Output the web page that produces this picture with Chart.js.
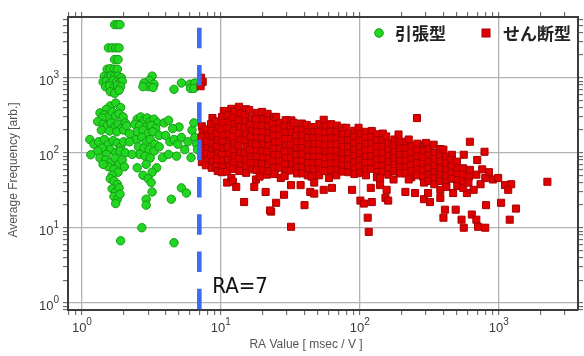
<!DOCTYPE html>
<html>
<head>
<meta charset="utf-8">
<script src="https://cdn.jsdelivr.net/npm/chart.js@4.4.1/dist/chart.umd.min.js"></script>
<style>
html, body { margin: 0; padding: 0; background: #fff; }
</style>
</head>
<body>
<canvas id="Scatter" width="584" height="356"></canvas>
<script>
// series names (legend)
const seriesNames = ['引張型', 'せん断型'];
const xTitle = 'RA Value [ msec / V ]';
const yTitle = 'Average Frequency [arb.]';
const raLabel = 'RA=7';
const raValue = 7;
const xDecades = [0, 1, 2, 3];
const yDecades = [0, 1, 2, 3];

// 引張型 (tensile) points [RA, frequency]
const tensilePts = [
  [1.72,5100],[1.8,5100],[1.88,5100],
  [1.55,2500],[1.65,2500],[1.75,2500],[1.85,2500],
  [1.72,1750],[1.82,1750],
  [1.52,1300],[1.6,1320],[1.7,1300],[1.8,1300],
  [1.45,1050],[1.55,1030],[1.62,1060],[1.72,1040],[1.82,1050],[1.92,1000],
  [1.42,880],[1.5,900],[1.6,850],[1.68,920],[1.78,880],[1.88,860],[1.95,900],
  [1.48,760],[1.58,780],[1.7,740],[1.8,790],[1.9,760],
  [1.6,650],[1.72,620],[1.85,680],
  [3.2,1050],[3.05,920],[2.8,850],[3.3,820],[3.0,760],[3.25,740],[2.75,760],
  [4.6,700],[5.2,850],[6.0,820],[6.05,720],[6.5,850],[6.4,720],
  [1.6,420],[1.75,460],[1.9,400],[1.5,380],
  [1.35,340],[1.45,320],[1.55,300],[1.65,350],[1.75,310],[1.85,330],[1.98,300],[1.4,290],
  [1.3,260],[1.42,240],[1.52,230],[1.62,250],[1.72,220],[1.82,240],[1.92,210],[2.05,250],
  [1.38,200],[1.58,195],[1.78,190],[2.0,200],[2.1,230],
  [1.14,150],[1.22,130],[1.32,140],[1.45,150],[1.55,130],[1.68,145],[1.8,135],[1.9,120],
  [2.0,140],[1.4,115],[1.6,110],[1.75,100],[1.88,105],[1.3,105],[1.16,94],[1.5,95],[2.05,100],
  [1.35,85],[1.48,80],[1.62,75],[1.74,85],[1.85,70],[1.95,80],[1.55,65],[1.7,60],
  [1.82,55],[1.42,70],[2.02,65],[1.65,50],
  [1.6,45],[1.7,42],[1.8,38],[1.65,33],[1.75,30],[1.85,34],[1.7,26],[1.8,24],[1.75,21],[1.88,28],
  [2.5,280],[2.65,300],[2.8,270],[2.95,290],[3.1,260],[3.3,280],[3.5,250],[2.4,240],
  [2.6,230],[2.9,220],[3.15,230],[3.4,210],[2.5,190],[2.75,200],[3.0,180],[3.25,190],
  [3.6,170],[2.45,150],[2.7,160],[2.9,140],[3.1,150],[3.35,130],[2.55,120],[2.8,115],
  [3.05,110],[3.3,105],[2.6,95],[2.85,90],[3.1,85],[3.45,63],[2.5,63],[2.9,70],[3.2,55],
  [2.75,50],[3.0,45],[3.15,40],[3.2,30],[2.9,24],[2.9,20],[2.7,10],[3.8,86],[3.6,120],
  [2.2,140],[2.3,95],[2.2,180],
  [4.0,170],[4.3,140],[4.6,150],[4.9,130],[5.2,160],[5.5,110],[5.8,140],[6.1,86],[6.2,200],
  [6.5,160],[6.7,130],[4.4,24],[5.2,34],[5.65,29],[4.2,95],[4.8,90],[5.0,220],[4.5,210],
  [6.8,110],[6.4,250],[3.9,250],[4.2,270],
  [1.9,6.7],[4.6,6.3]
];

// せん断型 (shear) points [RA, frequency]
const shearPts = [
  [7.2,1000],[7.4,880],[7.15,770],
  [7.3,225],[7.4,188],[7.25,160],[7.35,131],[7.3,107],[7.45,90],[7.3,75],
  [7.9,205],[8.1,170],[7.85,141],[8.0,116],[7.9,96],[8.05,81],[7.8,68],
  [8.7,290],[8.5,240],[8.6,196],[8.75,162],[8.55,135],[8.65,110],[8.5,92],[8.7,76],[8.6,63],
  [9.2,262],[9.6,215],[9.35,178],[9.5,148],[9.3,120],[9.55,99],[9.4,82],[9.25,66],[9.5,57],
  [10.5,360],[10.2,300],[10.4,250],[10.1,205],[10.35,168],[10.25,140],[10.45,114],[10.2,94],[10.4,78],[10.3,64],[10.15,55],
  [11.9,385],[11.2,315],[11.5,260],[11.1,212],[11.4,176],[11.6,143],[11.2,118],[11.45,97],[11.25,80],[11.6,66],[11.1,56],[11.1,40],[11.9,46],[12.2,41],
  [12.5,355],[12.3,290],[12.6,240],[12.4,198],[12.2,162],[12.5,133],[12.35,110],[12.6,90],[12.4,74],[12.25,61],[12.9,35],
  [13.5,410],[13.9,335],[13.4,270],[13.8,222],[13.55,182],[13.9,150],[13.4,123],[13.75,101],[13.5,83],[13.9,68],[13.6,57],
  [15.2,380],[14.9,318],[15.1,260],[14.8,214],[15.15,176],[15.0,145],[15.3,119],[14.85,98],[15.1,81],[15.25,66],[15.2,54],[14.7,22],
  [16,370],[16.7,288],[16.3,236],[16.8,196],[16.4,161],[16.7,133],[16.2,109],[16.6,89],[16.4,73],[16.8,60],[17.4,35],[17.9,44],
  [18.2,340],[17.9,280],[18.3,230],[18.0,190],[18.25,158],[17.95,130],[18.2,106],[18.0,88],[18.3,72],[18.1,59],[19,48],
  [19.8,350],[20.2,276],[19.6,228],[20.1,188],[19.8,155],[20.3,128],[19.9,105],[20.2,86],[19.7,71],[20.0,59],[21.5,51],
  [21.7,330],[22.1,272],[21.9,224],[22.2,184],[21.8,151],[22.0,124],[21.6,102],[22.2,84],[21.9,69],[22.1,57],[21,30],[23,16.4],[22.6,17],
  [24.2,300],[23.7,248],[24.2,204],[23.9,168],[24.4,137],[24,113],[24.3,93],[23.7,77],[24.1,63],[24.4,52],[25,21.5],
  [25,300],[26.6,250],[26.2,205],[26.5,169],[26.3,139],[26.7,114],[26.2,94],[26.5,77],[26.4,63],[27,46],[28.5,27.5],
  [29.3,272],[28.7,225],[29.2,186],[29,153],[29.4,125],[28.8,103],[29.3,85],[29.0,70],[29.4,58],[28.8,49],
  [32.2,270],[31.8,224],[32.3,185],[32,152],[31.7,126],[32.2,103],[32,85],[32.4,70],[31.9,58],[32,37],[32,10.3],
  [33.5,250],[35.3,200],[34.7,168],[35.4,138],[35,114],[34.7,94],[35.3,77],[34.9,64],[35.4,53],
  [38.3,245],[38.8,205],[38.4,170],[38.7,140],[38.2,115],[38.6,95],[38.9,78],[38.4,64],[38.7,53],[37.5,37],
  [41.5,235],[42.9,190],[42.2,157],[42.8,130],[42.1,107],[43,88],[42.4,73],[42.7,60],[42.2,50],[44,30],[40,20],
  [45,220],[46.9,190],[46.4,158],[47,130],[46.5,107],[46.8,88],[46.3,72],[47,60],[45,48],[47,40],[47,28.5],
  [51.2,240],[50.7,190],[51.4,157],[50.8,130],[51.3,107],[51,88],[50.6,73],[51.4,60],[51,50],
  [55,275],[56.8,225],[56.3,185],[56.7,152],[56.2,125],[56.9,103],[56.4,85],[56.7,70],[56.2,57],[55,32],
  [62.3,240],[61.7,190],[62.3,156],[61.8,128],[62.5,105],[61.6,87],[62.1,72],[62.5,59],[60,46],[63,34],
  [68.3,230],[67.7,190],[68.2,156],[67.9,129],[68.4,106],[67.8,87],[68.1,72],[68.3,59],[67.7,50],
  [74.5,215],[75.4,177],[74.7,145],[75.5,119],[74.6,98],[75.3,81],[74.8,67],[75.4,56],
  [80,215],[82.8,178],[82.3,146],[82.9,120],[82.2,99],[82.7,82],[82.4,67],[82.8,55],
  [91.4,196],[90.6,162],[91.3,133],[90.7,110],[91.5,91],[90.5,75],[91.1,62],[91.4,52],[88,32],
  [98,215],[100.5,176],[99.6,145],[100.4,119],[99.8,98],[100.6,80],[99.7,66],[100.3,54],[101,23],
  [110.5,190],[109.5,157],[110.4,130],[109.6,107],[110.6,88],[109.7,73],[110.2,60],[110.7,50],[107,21],[114,13.6],[116,8.8],
  [122,195],[120.6,162],[121.4,133],[120.7,110],[121.3,90],[120.5,74],[121.2,61],[120,34],[122,22],
  [133.5,176],[132.5,145],[133.4,119],[132.6,98],[133.6,81],[132.5,67],[133.2,55],[132.8,47],
  [146.5,180],[145.6,148],[146.3,121],[145.7,100],[146.4,82],[145.5,67],[146.2,56],[140,46],[140,37],
  [155,165],[161.5,133],[160.5,110],[161.4,91],[160.6,75],[161.3,62],[160.5,51],[156,32],[153,25],[160,23],
  [177.5,150],[176.6,124],[177.3,102],[176.7,84],[177.4,69],[176.5,57],[175,44],
  [190,175],[195.5,138],[194.5,114],[195.4,94],[194.6,77],[195.6,64],[194.6,53],
  [214.5,140],[213.5,115],[214.4,94],[213.6,78],[214.5,64],[213.5,53],[213,30],
  [225,150],[235.6,122],[234.4,101],[235.5,83],[234.5,69],[235.6,57],[234.5,47],[225,44],
  [258,290],[259.5,132],[258.5,108],[259.4,89],[258.6,73],[259.5,60],[258.5,50],[250,29],
  [290,128],[285.6,104],[284.4,86],[285.6,71],[284.4,58],[285.6,48],[290,40],[290,24],
  [300,135],[313.5,112],[312.5,92],[313.4,76],[312.6,62],[313.5,51],[312.5,42],[310,29],[320,22],
  [340,128],[344.6,99],[343.4,82],[344.7,67],[343.3,55],[344.6,46],[343.5,38],
  [379.5,112],[378.5,92],[379.4,76],[378.6,62],[379.5,51],[378.5,42],[380,32],[380,25],
  [400,110],[417.6,88],[416.4,72],[417.5,59],[416.5,49],[417.6,40],[420,35],[410,17.4],[400,13.6],
  [460,94],[457.5,80],[458.5,66],[457.4,54],[458.6,45],[470,29],[490,17.4],
  [500,76],[504.5,62],[503.5,51],[504.6,43],[503.4,36],[540,12.8],[560,10],
  [560,94],[554.5,62],[555.5,51],[554.4,42],[590,29],[555,34],
  [620,59],[610,48],[605,40],[660,32],[640,15],
  [620,140],[790,103],[690,51],[800,46],[910,44],[990,46],[1110,37],[1230,38],[1170,32],
  [2240,41],[690,12.8],[710,10.3],[800,10],[810,20],[1040,21.5],[1330,18],[1200,12.8],
  [700,80],[760,60],[850,55],[740,38]
];

// dashed RA=7 divider, top and bottom of the drawn line
const raLineY = [4640, 0.8];

const xMin = 0.794, xMax = 3720, yMin = 0.8, yMax = 6450;

function isDecade(v) {
    const l = Math.log10(v);
    return Math.abs(l - Math.round(l)) < 1e-9;
}

function logTicks(scale) {
    const out = [];
    for (let e = -1; e <= 4; e++) {
        for (let s = 1; s <= 9; s++) {
            const v = s * Math.pow(10, e);
            if (v >= scale.min && v <= scale.max) out.push({value: v});
        }
    }
    scale.ticks = out;
}

function axisOpts(min, max, position, size, mainAxis) {
    return {
        type: 'logarithmic',
        position: position,
        min: min,
        max: max,
        afterBuildTicks: logTicks,
        afterFit: function(s) {
            if (position == 'left' || position == 'right') s.width = size;
            else s.height = size;
        },
        ticks: { display: false },
        title: { display: false },
        border: { display: true, color: '#3c3c3c', width: 2 },
        grid: {
            drawOnChartArea: mainAxis,
            color: ctx => (ctx.tick && isDecade(ctx.tick.value)) ? '#b2b2b2' : 'rgba(0,0,0,0)',
            lineWidth: 1.3,
            drawTicks: true,
            tickLength: 5,
            tickWidth: 1,
            tickColor: '#555'
        }
    };
}

function drawPow(ctx, e, x, y, align) {
    ctx.font = '13px "Liberation Sans", Arial, sans-serif';
    const wb = ctx.measureText('10').width;
    ctx.font = '10px "Liberation Sans", Arial, sans-serif';
    const we = ctx.measureText(String(e)).width;
    let left;
    if (align == 'center') left = x - (wb + we) / 2;
    else left = x - wb - we;
    ctx.textAlign = 'left';
    ctx.textBaseline = 'alphabetic';
    ctx.font = '13px "Liberation Sans", Arial, sans-serif';
    ctx.fillText('10', left, y);
    ctx.font = '10px "Liberation Sans", Arial, sans-serif';
    ctx.fillText(String(e), left + wb, y - 7);
}

const overlay = {
    id: 'overlay',
    afterDraw(chart) {
        const ctx = chart.ctx;
        const xs = chart.scales.x, ys = chart.scales.y;
        ctx.save();
        // tick labels with exponents
        ctx.fillStyle = '#3a3a3a';
        for (const e of xDecades) {
            drawPow(ctx, e, xs.getPixelForValue(Math.pow(10, e)), 332, 'center');
        }
        for (const e of yDecades) {
            drawPow(ctx, e, 59, ys.getPixelForValue(Math.pow(10, e)) + 7, 'right');
        }
        // axis titles
        ctx.fillStyle = '#555';
        ctx.font = '12px "Liberation Sans", Arial, sans-serif';
        ctx.textAlign = 'center';
        ctx.textBaseline = 'middle';
        ctx.fillText(xTitle, 306, 345);
        ctx.save();
        ctx.translate(14, 170);
        ctx.rotate(-Math.PI / 2);
        ctx.fillText(yTitle, 0, 0);
        ctx.restore();
        // RA=7 label
        ctx.fillStyle = '#111';
        ctx.font = '22px "Liberation Sans Narrow", "DejaVu Sans Condensed", sans-serif';
        ctx.textAlign = 'left';
        ctx.textBaseline = 'alphabetic';
        ctx.fillText(raLabel, xs.getPixelForValue(raValue) + 13, 293);
        // legend
        ctx.fillStyle = '#fff';
        ctx.fillRect(362, 18, 136, 24);
        ctx.fillStyle = '#22d622';
        ctx.strokeStyle = '#139a13';
        ctx.lineWidth = 1;
        ctx.beginPath();
        ctx.arc(379, 33, 4.3, 0, Math.PI * 2);
        ctx.fill();
        ctx.stroke();
        ctx.fillStyle = '#e00000';
        ctx.strokeStyle = '#a80000';
        ctx.fillRect(482, 29, 8, 8);
        ctx.strokeRect(482, 29, 8, 8);
        ctx.fillStyle = '#222';
        ctx.font = 'bold 17px "Noto Sans CJK JP", sans-serif';
        ctx.textBaseline = 'middle';
        ctx.fillText(seriesNames[0], 395, 34);
        ctx.fillText(seriesNames[1], 503, 34);
        ctx.restore();
    }
};

const chartdata = {
    datasets: [
        {
            label: 'RA',
            data: raLineY.map(v => ({x: raValue, y: v})),
            showLine: true,
            borderColor: '#3d6cf2',
            borderWidth: 4.6,
            borderDash: [20.5, 16.8],
            pointRadius: 0,
            fill: false,
            order: 0
        },
        {
            label: seriesNames[1],
            data: shearPts.map(p => ({x: p[0], y: p[1]})),
            pointStyle: 'rect',
            pointRadius: 5,
            backgroundColor: '#e00000',
            borderColor: '#a80000',
            borderWidth: 1,
            order: 1
        },
        {
            label: seriesNames[0],
            data: tensilePts.map(p => ({x: p[0], y: p[1]})),
            pointStyle: 'circle',
            pointRadius: 4.2,
            backgroundColor: '#22d622',
            borderColor: '#139a13',
            borderWidth: 1,
            order: 2
        }
    ]
};

const config = {
    type: 'scatter',
    data: chartdata,
    options: {
        responsive: false,
        animation: false,
        events: [],
        layout: { padding: 0 },
        plugins: {
            legend: { display: false },
            tooltip: { enabled: false }
        },
        scales: {
            x: axisOpts(xMin, xMax, 'bottom', 46, true),
            x2: axisOpts(xMin, xMax, 'top', 17, false),
            y: axisOpts(yMin, yMax, 'left', 68, true),
            y2: axisOpts(yMin, yMax, 'right', 4.5, false)
        }
    },
    plugins: [overlay]
};

const ScatterChart = new Chart(document.getElementById('Scatter'), config);
</script>
</body>
</html>
